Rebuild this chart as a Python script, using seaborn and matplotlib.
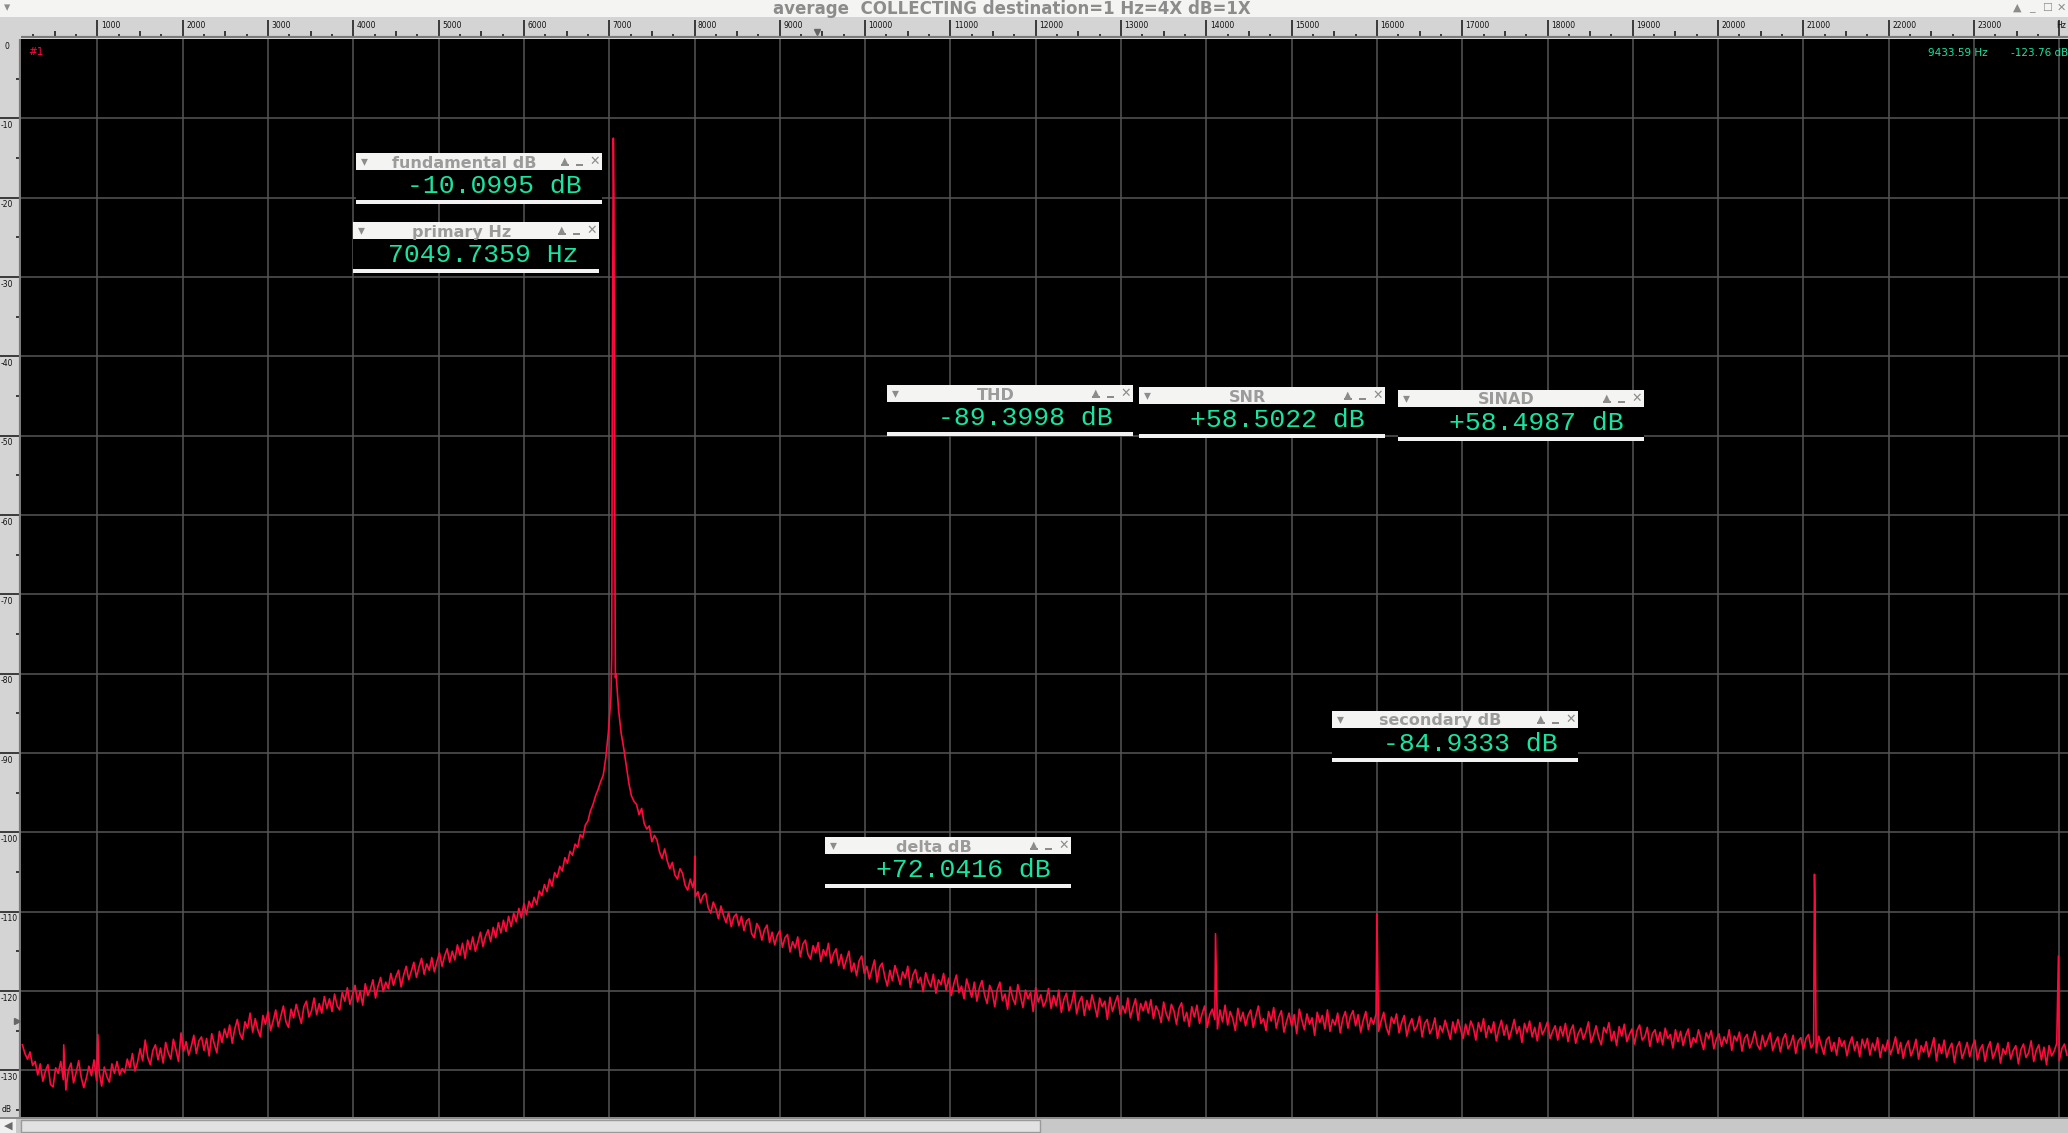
import numpy as np
import pandas as pd
import matplotlib.pyplot as plt
import seaborn as sns
from matplotlib.patches import Rectangle
from matplotlib.transforms import Affine2D

# --- data ---
# noise floor, one value every 30 Hz starting at 120 Hz (40 values per 1200 Hz)
noise_db = [
    -126.8, -127.9, -128.6, -127.7, -129.4, -128.9, -130.6, -129.2, -131.4, -130.1,
    -129.3, -131.8, -132.1, -129.7, -130.4, -128.9, -131.2, -132.5, -130.0, -129.1,
    -131.6, -130.3, -128.8, -130.9, -132.2, -131.0, -129.5, -130.7, -128.7, -131.3,
    -130.2, -132.0, -129.6, -130.8, -131.5, -129.2, -130.4, -128.9, -130.6, -129.8,
    # 1320 Hz
    -130.3, -128.6, -129.7, -127.9, -130.1, -129.0, -127.3, -128.8, -126.2, -128.4,
    -129.3, -127.5, -126.8, -128.7, -127.2, -129.1, -126.5, -127.8, -128.6, -126.1,
    -127.4, -128.9, -125.3, -127.6, -126.4, -128.1, -127.0, -125.6, -127.9, -126.3,
    -125.8, -127.5, -126.0, -128.2, -125.4, -126.7, -127.8, -125.1, -126.5, -124.8,
    # 2520 Hz
    -125.9, -124.3, -126.6, -124.8, -123.6, -125.4, -126.1, -123.9, -124.7, -122.8,
    -125.2, -123.5, -124.9, -125.8, -123.1, -124.2, -122.6, -125.0, -123.8, -122.4,
    -124.5, -123.2, -121.9, -123.9, -124.6, -122.3, -123.4, -121.7, -122.9, -124.1,
    -122.0, -121.3, -123.3, -122.5, -120.9, -123.0, -121.6, -122.8, -120.7, -122.2,
    # 3720 Hz
    -121.0, -122.6, -120.4, -121.9, -122.4, -120.2, -121.3, -119.6, -121.7, -120.5,
    -119.3, -121.4, -120.0, -121.8, -119.1, -120.6, -119.8, -118.6, -120.9, -119.4,
    -118.3, -120.1, -118.9, -119.7, -117.8, -119.3, -118.2, -117.4, -119.5, -118.0,
    -116.9, -118.6, -117.5, -116.4, -118.3, -117.0, -115.9, -117.9, -116.6, -117.4,
    # 4920 Hz
    -115.8, -117.6, -116.3, -115.2, -116.9, -115.6, -114.7, -116.4, -115.0, -116.1,
    -114.2, -115.5, -114.0, -115.9, -113.6, -114.8, -113.2, -115.0, -113.9, -112.6,
    -114.4, -113.1, -112.3, -113.8, -112.0, -113.3, -111.4, -112.7, -111.1, -112.5,
    -110.6, -111.9, -110.2, -111.3, -109.6, -110.8, -109.0, -110.4, -108.7, -109.5,
    # 6120 Hz (skirt of the fundamental)
    -108.2, -109.1, -107.4, -108.0, -106.6, -107.5, -105.9, -106.8, -105.1, -105.7,
    -104.3, -104.9, -103.2, -103.9, -102.4, -102.9, -101.5, -101.9, -100.3, -100.7,
    -99.1, -98.6, -97.3, -96.5, -95.4, -94.6, -93.6, -92.8, -90.6, -87.4,
    -83.0, -14.0, -80.0, -84.6, -87.5, -89.4, -91.6, -93.8, -95.4, -96.1,
    # 7320 Hz
    -96.5, -97.8, -97.0, -98.9, -99.6, -99.2, -101.2, -100.4, -101.0, -102.5,
    -103.3, -102.1, -103.6, -104.6, -103.8, -105.4, -105.9, -104.6, -105.2, -106.7,
    -107.3, -105.9, -107.0, -108.1, -107.5, -108.9, -108.0, -107.7, -109.5, -110.2,
    -108.8, -109.6, -110.9, -109.3, -110.5, -111.4, -110.1, -111.9, -110.7, -110.3,
    # 8520 Hz
    -111.8, -110.6, -112.4, -111.2, -110.9, -112.8, -113.3, -111.5, -112.1, -113.6,
    -112.3, -111.7, -113.9, -112.6, -114.2, -113.0, -112.4, -114.5, -113.3, -112.9,
    -115.1, -113.8, -114.6, -113.2, -115.7, -114.1, -113.6, -115.4, -116.0, -114.3,
    -115.2, -113.9, -116.3, -114.8, -115.6, -114.0, -116.5, -115.3, -114.7, -116.8,
    # 9720 Hz
    -115.4, -117.2, -116.1, -115.0, -117.6, -116.5, -118.1, -116.2, -115.6, -117.8,
    -116.9, -118.5, -117.3, -116.1, -118.9, -117.0, -116.5, -118.2, -119.4, -117.4,
    -118.7, -116.8, -117.9, -119.2, -117.6, -118.4, -116.9, -119.6, -118.0, -117.3,
    -119.0, -118.3, -120.1, -117.7, -118.8, -119.5, -117.9, -120.3, -118.6, -119.2,
    # 10920 Hz
    -117.8, -119.9, -118.4, -120.6, -119.1, -118.0, -120.2, -119.4, -121.0, -118.5,
    -119.7, -120.8, -118.9, -121.3, -119.6, -118.7, -120.5, -121.6, -119.3, -120.1,
    -122.0, -119.8, -118.9, -121.2, -120.4, -122.3, -119.5, -120.9, -121.7, -119.2,
    -120.6, -122.1, -119.9, -121.0, -120.2, -122.6, -119.6, -121.4, -120.5, -122.0,
    # 12120 Hz
    -121.3, -119.7, -122.2, -120.6, -121.9, -119.9, -122.7, -121.1, -120.3, -122.5,
    -121.6, -120.0, -122.9, -121.4, -120.7, -123.1, -121.2, -122.4, -120.5, -121.8,
    -123.3, -120.9, -122.0, -121.3, -123.6, -120.8, -122.6, -121.5, -120.6, -123.0,
    -121.9, -122.8, -120.9, -123.4, -122.1, -121.0, -123.7, -121.6, -122.5, -121.3,
    # 13320 Hz
    -122.8, -121.1, -123.5, -121.9, -122.6, -124.0, -121.4, -122.9, -123.7, -121.7,
    -122.5, -124.2, -122.2, -121.5, -123.8, -122.7, -124.5, -122.0, -123.3, -121.8,
    -124.1, -122.9, -121.9, -124.6, -123.0, -122.3, -123.6, -124.8, -122.4, -123.9,
    -121.8, -124.3, -122.6, -123.5, -125.0, -122.2, -123.8, -122.7, -124.4, -123.1,
    # 14520 Hz
    -122.4, -124.6, -123.2, -121.9, -124.1, -123.5, -125.0, -122.6, -123.8, -122.1,
    -124.7, -123.3, -122.5, -125.2, -123.9, -122.8, -124.4, -123.0, -125.4, -122.3,
    -123.7, -124.9, -122.9, -124.2, -123.4, -125.6, -122.7, -124.0, -123.1, -124.8,
    -122.4, -125.1, -123.6, -124.3, -122.8, -125.3, -123.5, -122.6, -124.7, -123.2,
    # 15720 Hz
    -122.5, -124.4, -123.0, -125.2, -123.7, -122.6, -124.9, -123.4, -124.2, -122.9,
    -125.1, -123.8, -122.7, -124.6, -125.5, -123.3, -124.1, -122.9, -125.3, -124.0,
    -123.1, -125.7, -124.3, -123.5, -125.0, -124.5, -123.2, -125.8, -124.1, -123.6,
    -125.4, -124.7, -123.4, -126.0, -124.4, -125.2, -123.7, -124.9, -126.1, -123.9,
    # 16920 Hz
    -125.3, -123.6, -124.8, -126.0, -124.2, -125.5, -123.8, -124.6, -126.2, -124.0,
    -125.1, -123.5, -125.9, -124.4, -125.3, -123.9, -126.3, -124.8, -123.7, -125.6,
    -124.3, -126.1, -124.9, -123.6, -125.4, -124.5, -126.5, -124.1, -125.2, -123.8,
    -125.8, -124.6, -126.3, -124.0, -125.5, -124.8, -123.9, -126.0, -125.1, -124.4,
    # 18120 Hz
    -126.2, -124.5, -125.7, -124.1, -126.4, -125.0, -124.3, -126.6, -125.4, -124.7,
    -126.1, -125.2, -123.9, -126.5, -125.6, -124.4, -125.9, -126.8, -124.6, -125.3,
    -124.0, -126.3, -125.1, -126.9, -124.5, -125.7, -124.2, -126.4, -125.5, -124.8,
    -126.7, -125.0, -124.3, -126.2, -125.8, -124.6, -127.0, -125.4, -124.9, -126.5,
    # 19320 Hz
    -125.2, -126.8, -124.7, -126.0, -125.5, -127.2, -124.9, -126.4, -125.1, -126.9,
    -125.6, -124.8, -127.1, -125.9, -126.5, -124.9, -126.2, -127.4, -125.3, -126.0,
    -125.0, -127.3, -126.1, -125.4, -127.0, -125.8, -126.6, -124.9, -127.5, -125.7,
    -126.3, -125.2, -127.6, -126.0, -125.5, -127.2, -126.4, -125.1, -126.8, -127.4,
    # 20520 Hz
    -125.6, -127.0, -126.2, -125.3, -127.5, -126.5, -125.8, -127.7, -126.1, -125.4,
    -127.3, -126.7, -125.6, -127.9, -126.3, -125.9, -127.4, -126.0, -125.5, -127.2,
    -126.6, -127.8, -125.7, -126.9, -128.0, -126.2, -125.8, -127.6, -126.5, -128.1,
    -125.9, -127.0, -126.3, -128.2, -126.7, -125.8, -127.5, -126.4, -128.3, -126.1,
    # 21720 Hz
    -127.2, -126.0, -128.1, -126.6, -127.5, -125.9, -128.4, -126.8, -127.6, -126.2,
    -128.0, -127.1, -125.8, -127.9, -126.5, -128.5, -127.0, -126.3, -128.2, -127.4,
    -126.1, -128.6, -126.9, -127.7, -126.4, -128.3, -127.2, -125.9, -128.8, -126.7,
    -127.9, -126.2, -128.4, -127.3, -126.6, -129.0, -127.1, -126.4, -128.5, -127.6,
    # 22920 Hz
    -126.5, -128.3, -127.0, -126.2, -128.7, -127.4, -126.8, -128.9, -127.2, -126.4,
    -128.5, -127.7, -126.6, -129.1, -127.3, -128.0, -126.5, -128.6, -127.5, -126.9,
    -129.2, -127.4, -126.7, -128.4, -127.8, -126.3, -128.9, -127.5, -126.8, -128.7,
    -127.1, -129.3, -126.9, -128.2, -127.6, -126.6, -128.8, -127.3, -126.7, -128.1,
]
noise_start_hz = 120
noise_step_hz = 30

# fundamental around 7049.7 Hz
peak_hz = [7029, 7037, 7048, 7055, 7062, 7072]
peak_db = [-77.9, -42.8, -12.5, -19.6, -52.1, -80.5]

# spurs / harmonics
spur_hz = [605, 1005, 7998, 8003, 14104, 14108, 15995, 16000, 21125, 21130, 21135, 23985, 23990]
spur_db = [-126.8, -125.5, -106.0, -103.0, -117.3, -112.8, -116.4, -110.3, -115.7, -105.3, -108.3, -118.0, -115.6]

x_ticks = list(range(1000, 24001, 1000))
y_ticks = list(range(-130, -9, 10))

widgets = [
    # (left px, top px, title, value)
    (356, 153, 'fundamental dB', '-10.0995 dB'),
    (353, 222, 'primary Hz', '7049.7359 Hz'),
    (887, 385, 'THD', '-89.3998 dB'),
    (1139, 387, 'SNR', '+58.5022 dB'),
    (1398, 390, 'SINAD', '+58.4987 dB'),
    (1332, 711, 'secondary dB', '-84.9333 dB'),
    (825, 837, 'delta dB', '+72.0416 dB'),
]

cursor_hz = 9433.59
cursor_db = -123.76

noise_hz = noise_start_hz + noise_step_hz * np.arange(len(noise_db))
df = pd.concat([
    pd.DataFrame({'hz': noise_hz, 'db': noise_db}),
    pd.DataFrame({'hz': peak_hz, 'db': peak_db}),
    pd.DataFrame({'hz': spur_hz, 'db': spur_db}),
]).sort_values('hz').reset_index(drop=True)

# --- layout in screen pixels ---
W, H = 2068, 1133
fig = plt.figure(figsize=(W / 100, H / 100), dpi=100, facecolor='#d4d4d4')
px = Affine2D().scale(1 / W, -1 / H).translate(0, 1) + fig.transFigure

XLIM = (104, 24102)
YLIM = (-135.9, 0)
GREEN = '#18e6a0'
RED = '#ff0a3c'
ICON = '#8c8c8c'


def axes_px(x0, y0, x1, y1):
    return fig.add_axes([x0 / W, 1 - y1 / H, (x1 - x0) / W, (y1 - y0) / H])


def rect(x0, y0, x1, y1, color, **kw):
    fig.add_artist(Rectangle((x0, y0), x1 - x0, y1 - y0, transform=px,
                             facecolor=color, edgecolor=kw.pop('ec', 'none'), **kw))


def text(x, y, s, **kw):
    fig.text(x, y, s, transform=px, **kw)


# title bar
rect(0, 0, W, 17, '#f4f4f2')
text(1012, 8.5, 'average  COLLECTING destination=1 Hz=4X dB=1X', ha='center', va='center',
     fontsize=12, weight='bold', color='#8c8c8c')
text(7, 8, '\u25be', ha='center', va='center', fontsize=9, color=ICON)
for x, s in [(2017, '\u25b2'), (2032, '_'), (2047, '\u2610'), (2061, '\u2715')]:
    text(x, 8, s, ha='center', va='center', fontsize=8, color=ICON)

# main plot
ax = axes_px(21, 39, W, 1117)
ax.set_facecolor('black')
sns.lineplot(data=df, x='hz', y='db', ax=ax, color=RED, lw=1.2, estimator=None, sort=True)
ax.set_xlim(*XLIM)
ax.set_ylim(*YLIM)
ax.set_xticks(x_ticks)
ax.set_yticks(y_ticks)
ax.grid(True, color='#555555', lw=1.1)
ax.set_axisbelow(True)
ax.tick_params(length=0, labelbottom=False, labelleft=False)
ax.set_xlabel('')
ax.set_ylabel('')
for s in ax.spines.values():
    s.set_visible(False)

# top ruler
rx = axes_px(21, 17, W, 38)
rx.set_xlim(*XLIM)
rx.set_ylim(21, 0)
rx.axis('off')
rx.add_patch(Rectangle((XLIM[0], 0), XLIM[1] - XLIM[0], 21, color='#d4d4d4', zorder=0))
for f in range(0, 24001, 250):
    if f % 1000 == 0:
        rx.vlines(f, 2.5, 21, color='#111111', lw=1.1)
        if 0 < f < 24000:
            rx.text(f + 40, 4.2, str(f), fontsize=5.5, va='top', ha='left', color='#111111')
    elif f % 500 == 0:
        rx.vlines(f, 13.5, 21, color='#111111', lw=1.1)
    else:
        rx.vlines(f, 16.5, 21, color='#111111', lw=1.1)
rx.text(23960, 4.2, 'Hz', fontsize=5.5, va='top', ha='left', color='#111111')
rx.axhline(20.3, color='#7a7a7a', lw=1.6)
rx.plot(cursor_hz, 15, marker='v', ms=5, color='#666666', clip_on=False)

# left ruler
ry = axes_px(0, 39, 21, 1117)
ry.set_xlim(0, 21)
ry.set_ylim(*YLIM)
ry.axis('off')
ry.add_patch(Rectangle((0, YLIM[0]), 21, YLIM[1] - YLIM[0], color='#d4d4d4', zorder=0))
for v in range(0, -136, -5):
    if v % 10 == 0:
        if v < 0:
            ry.hlines(v, 0, 21, color='#111111', lw=1.1)
        ry.text(1 if v < 0 else 4.5, v - 0.35, str(v), fontsize=5.5, va='top', ha='left', color='#111111')
    else:
        ry.hlines(v, 15.5, 21, color='#111111', lw=1.1)
ry.text(2, -135.0, 'dB', fontsize=5.5, va='center', ha='left', color='#111111')
ry.axvline(20.4, color='#7a7a7a', lw=1.6)
ry.plot(16.5, cursor_db, marker='>', ms=5, color='#666666', clip_on=False)

# readouts inside the plot
text(28, 55, '#1', fontsize=7.5, color=RED, va='baseline')
text(1988, 56, f'{cursor_hz:.2f} Hz', fontsize=7.5, color=GREEN, ha='right', va='baseline')
text(2068, 56, f'{cursor_db:.2f} dB', fontsize=7.5, color=GREEN, ha='right', va='baseline')

# measurement widgets
WW = 246
for x0, y0, title, value in widgets:
    rect(x0, y0, x0 + WW, y0 + 17, '#f4f4f2')
    rect(x0, y0 + 17, x0 + WW, y0 + 47, 'black')
    rect(x0, y0 + 47, x0 + WW, y0 + 51, '#f2f2f2')
    text(x0 + 108.5, y0 + 14.5, title, ha='center', va='baseline', fontsize=11.5,
         weight='bold', color='#9b9b9b')
    text(x0 + 8, y0 + 8.5, '\u25be', ha='center', va='center', fontsize=10, color=ICON)
    text(x0 + WW - 37, y0 + 7.5, '\u25b2', ha='center', va='center', fontsize=7, color=ICON)
    rect(x0 + WW - 41, y0 + 11, x0 + WW - 33, y0 + 12.5, ICON)
    rect(x0 + WW - 26, y0 + 11, x0 + WW - 19, y0 + 13, ICON)
    text(x0 + WW - 7, y0 + 8, '\u2715', ha='center', va='center', fontsize=9,
         weight='bold', color=ICON)
    text(x0 + WW - 20, y0 + 40, value, ha='right', va='baseline', fontsize=19,
         family=['Liberation Mono', 'DejaVu Sans Mono'], color=GREEN)

# scrollbar
rect(0, 1117, W, H, '#c8c8c8')
rect(0, 1117, W, 1119, '#8a8a8a')
rect(0, 1119, 16, H, '#f0f0f0')
text(8, 1126, '\u25c0', ha='center', va='center', fontsize=8, color='#6a6a6a')
rect(21, 1120, 1040, 1132, '#e2e2e2', ec='#9a9a9a', lw=1)

fig.savefig('out.png', dpi=100, facecolor=fig.get_facecolor())
